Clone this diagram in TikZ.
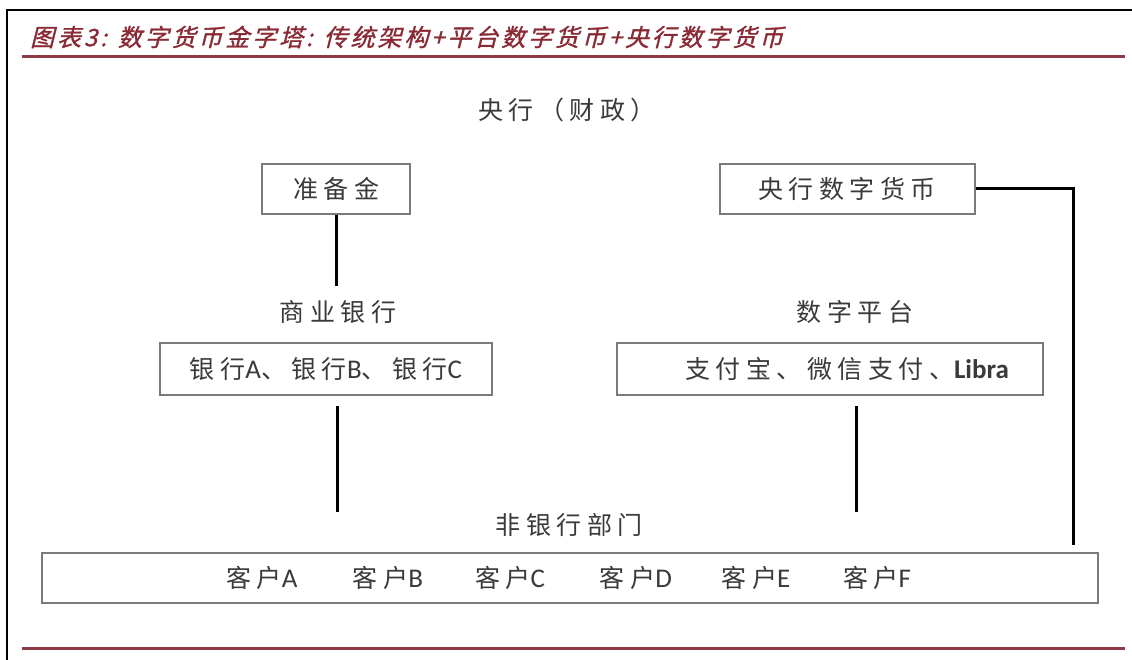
\documentclass[tikz,border=0pt]{standalone}
\usepackage{fontspec}
\setmainfont{Carlito}
\newfontfamily\cjk[LetterSpace=22]{Noto Sans CJK SC}
\newfontfamily\cjktitle[FakeSlant=0.25,FakeBold=1.2,LetterSpace=12]{Noto Sans CJK SC}
\newfontfamily\latfont{Carlito}
\definecolor{rulered}{HTML}{8E3B46}
\definecolor{titlered}{HTML}{8A2A35}
\definecolor{boxgray}{HTML}{7A7A7A}
\definecolor{txt}{HTML}{3A3A3A}
\tikzset{
  lbl/.style={inner sep=0pt, text=txt, font=\cjk\fontsize{25}{29}\selectfont},
  boxn/.style={draw=boxgray, line width=2pt, inner sep=0pt, text=txt,
    font=\cjk\fontsize{25}{29}\selectfont},
  conn/.style={line width=3pt, draw=black},
  redrule/.style={line width=3pt, draw=rulered},
  frame/.style={line width=2pt, draw=black}
}
\newcommand{\lat}[1]{{\latfont\fontsize{27}{29}\selectfont#1}}
\begin{document}
\begin{tikzpicture}[x=1pt,y=-1pt]
\useasboundingbox (0,0) rectangle (1132,660);
\fill[white] (0,0) rectangle (1132,660);
% frame
\coordinate (fTL) at (7,10);
\coordinate (fTR) at (1132,10);
\coordinate (fBL) at (7,660);
\draw[frame] (fTR) -- (fTL) -- (fBL);
% title
\node[anchor=west, inner sep=0pt, text=titlered, font=\cjktitle\fontsize{24}{28}\selectfont] (title) at (30,37) {图表3: 数字货币金字塔: 传统架构+平台数字货币+央行数字货币};
\coordinate (r1a) at (22,57);
\coordinate (r1b) at (1125,57);
\draw[redrule] (r1a) -- (r1b);
\coordinate (r2a) at (22,648);
\coordinate (r2b) at (1125,648);
\draw[redrule] (r2a) -- (r2b);
% labels
\node[lbl] (cb) at (567,110) {央行（财政）};
\node[lbl] (bankl) at (338,312) {商业银行};
\node[lbl] (platl) at (855,312) {数字平台};
\node[lbl] (nonbank) at (569,525) {非银行部门};
% boxes
\node[boxn, minimum width=148pt, minimum height=50pt] (reserve) at (336,189) {准备金};
\node[boxn, minimum width=255pt, minimum height=50pt] (cbdc) at (847,189) {央行数字货币};
\node[boxn, minimum width=332pt, minimum height=52pt] (bank) at (326,369) {银行\lat{A}、银行\lat{B}、银行\lat{C}};
\node[boxn, minimum width=426pt, minimum height=52pt] (plat) at (830,369) {};
\node[lbl] (platt) at (847,369) {支付宝、微信支付、\lat{\bfseries Libra}};
\node[boxn, minimum width=1056pt, minimum height=50pt] (cust) at (570,578) {};
\foreach \n/\x in {A/262,B/388,C/510,D/636,E/756,F/877}{
  \node[lbl] (c\n) at (\x,578) {客户\lat{\n}};
}
% connectors
\coordinate (rb) at (336,286);
\draw[conn] (reserve.south) -- (rb);
\coordinate (bb) at (337,512);
\draw[conn] ([yshift=-10pt]bank.south -| bb) -- (bb);
\coordinate (pb) at (856,512);
\draw[conn] ([yshift=-10pt]plat.south -| pb) -- (pb);
\coordinate (rc) at (1073,545);
\draw[conn] (cbdc.east) -| (rc);
\end{tikzpicture}
\end{document}
